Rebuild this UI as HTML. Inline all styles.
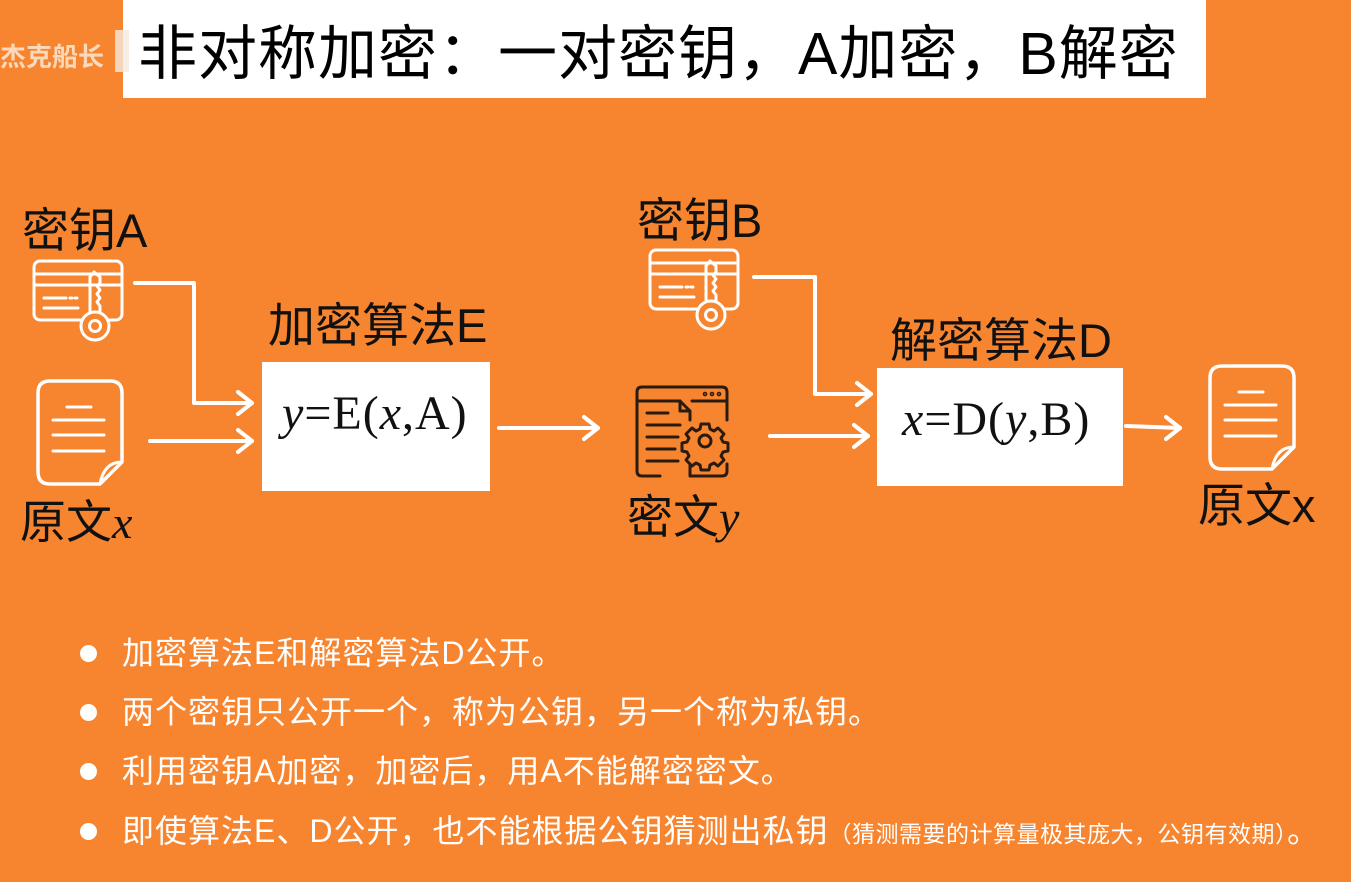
<!DOCTYPE html>
<html><head><meta charset="utf-8"><style>
body{margin:0;width:1351px;height:882px;background:#F7852F;position:relative;overflow:hidden;font-family:"Liberation Sans","Noto Sans CJK SC",sans-serif}
.t{position:absolute;white-space:nowrap;line-height:1}
.m{font-family:"Liberation Serif","Noto Serif CJK SC",serif;letter-spacing:1px}
.b{color:#fff;font-size:32px;left:122px;letter-spacing:1px}
.dot{position:absolute;left:80px;width:17px;height:17px;border-radius:50%;background:#fff}
</style></head><body>
<div style="position:absolute;left:123px;top:0;width:1083px;height:98px;background:#fff"></div>
<div class="t" style="left:0;top:44px;font-size:26px;color:#FBD9BD;font-weight:bold">杰克船长</div>
<div style="position:absolute;left:115px;top:30px;width:14px;height:42px;background:#F2E8E0;opacity:.8"></div>
<div class="t" style="left:138px;top:25px;font-size:59px;color:#000;letter-spacing:1px">非对称加密：一对密钥，A加密，B解密</div>

<svg width="1351" height="882" style="position:absolute;left:0;top:0" fill="none">
<g stroke="#fff" stroke-width="4" stroke-linecap="round" stroke-linejoin="round">
<g id="key">
<rect x="34" y="261" width="88" height="59" rx="6" stroke-width="3"/>
<line x1="34" y1="274" x2="122" y2="274" stroke-width="3"/><line x1="34" y1="285" x2="122" y2="285" stroke-width="3"/>
<line x1="44" y1="298" x2="66" y2="298" stroke-width="3"/><line x1="70" y1="298" x2="72" y2="298" stroke-width="3"/><line x1="75" y1="298" x2="77" y2="298" stroke-width="3"/><line x1="44" y1="308" x2="78" y2="308" stroke-width="3"/>
<path d="M90 277 L94 272 L100 277 V283 L97 286 L100 290 L97 294 L100 298 L97 302 L100 306 V313" stroke-width="3"/>
<path d="M90 277 V313" stroke-width="3"/>
<circle cx="95" cy="326" r="14" fill="#F7852F" stroke-width="3"/><circle cx="95" cy="326" r="5.5" stroke-width="3"/>
</g>
<use href="#key" transform="translate(616,-11)"/>
<g id="doc">
<path d="M50 381 H110 Q122 381 122 393 V462 L100 484 H50 Q38 484 38 472 V393 Q38 381 50 381 Z" stroke-width="3.5"/>
<path d="M122 462 Q104 462 100 484" stroke-width="3"/>
<line x1="67" y1="407" x2="91" y2="407" stroke-width="3"/><line x1="53" y1="420" x2="104" y2="420" stroke-width="3"/><line x1="53" y1="435" x2="104" y2="435" stroke-width="3"/><line x1="53" y1="451" x2="104" y2="451" stroke-width="3"/>
</g>
<use href="#doc" transform="translate(1172,-15)"/>
<polyline points="135,283 194,283 194,403 252,403"/><polyline points="238,392 252,403 238,414"/>
<line x1="150" y1="441" x2="252" y2="441"/><polyline points="238,430 252,441 238,452"/>
<line x1="499" y1="428" x2="598" y2="428"/><polyline points="584,417 598,428 584,439"/>
<polyline points="754,277 815,277 815,394 871,394"/><polyline points="857,383 871,394 857,405"/>
<line x1="770" y1="436" x2="868" y2="436"/><polyline points="854,425 868,436 854,447"/>
<line x1="1126" y1="426" x2="1180" y2="428"/><polyline points="1166,417 1180,428 1166,439"/>
</g>
<g stroke="#2a1a10" stroke-width="3" stroke-linecap="round" stroke-linejoin="round">
<path d="M660 476 H642 Q637 476 637 471 V392 Q637 387 642 387 H722 Q727 387 727 392 V420"/>
<line x1="637" y1="401" x2="680" y2="401"/><line x1="692" y1="401" x2="727" y2="401"/>
<circle cx="705" cy="394" r="0.8"/><circle cx="712" cy="394" r="0.8"/><circle cx="719" cy="394" r="0.8"/>
<path d="M680 401 L690 411 V420"/><path d="M680 401 V411 H690"/>
<line x1="647" y1="413" x2="668" y2="413"/><line x1="647" y1="425" x2="680" y2="425"/><line x1="647" y1="437" x2="678" y2="437"/><line x1="647" y1="449" x2="675" y2="449"/><line x1="647" y1="461" x2="678" y2="461"/>
<path d="M690 460 V476 H722 Q727 476 727 471 V464"/>
<path d="M701 424 h8 l1 5 l4 2 l4 -3 l6 6 l-3 4 l2 4 l5 1 v8 l-5 1 l-2 4 l3 4 l-6 6 l-4 -3 l-4 2 l-1 5 h-8 l-1 -5 l-4 -2 l-4 3 l-6 -6 l3 -4 l-2 -4 l-5 -1 v-8 l5 -1 l2 -4 l-3 -4 l6 -6 l4 3 l4 -2 z" fill="#F7852F"/>
<circle cx="705" cy="441" r="6"/>
</g>
</svg>

<div class="t" style="left:22px;top:207px;font-size:47px;color:#111">密钥A</div>
<div class="t" style="left:20px;top:499px;font-size:46px;color:#111">原文<span class="m" style="font-style:italic">x</span></div>
<div class="t" style="left:268px;top:302px;font-size:47px;color:#111">加密算法E</div>
<div style="position:absolute;left:262px;top:362px;width:228px;height:129px;background:#fff"></div>
<div class="t m" style="left:282px;top:390px;font-size:48px;color:#111"><i>y</i>=E(<i>x</i>,A)</div>
<div class="t" style="left:637px;top:197px;font-size:47px;color:#111">密钥B</div>
<div class="t" style="left:627px;top:494px;font-size:46px;color:#111">密文<span class="m" style="font-style:italic">y</span></div>
<div class="t" style="left:890px;top:317px;font-size:47px;color:#111">解密算法D</div>
<div style="position:absolute;left:877px;top:368px;width:246px;height:118px;background:#fff"></div>
<div class="t m" style="left:902px;top:396px;font-size:48px;color:#111"><i>x</i>=D(<i>y</i>,B)</div>
<div class="t" style="left:1198px;top:482px;font-size:47px;color:#111">原文x</div>

<div class="dot" style="top:645px"></div><div class="t b" style="top:637px">加密算法E和解密算法D公开。</div>
<div class="dot" style="top:704px"></div><div class="t b" style="top:696px">两个密钥只公开一个，称为公钥，另一个称为私钥。</div>
<div class="dot" style="top:763px"></div><div class="t b" style="top:755px">利用密钥A加密，加密后，用A不能解密密文。</div>
<div class="dot" style="top:823px"></div><div class="t b" style="top:815px">即使算法E、D公开，也不能根据公钥猜测出私钥<span style="font-size:23px;letter-spacing:0.5px">（猜测需要的计算量极其庞大，公钥有效期）</span>。</div>
</body></html>
